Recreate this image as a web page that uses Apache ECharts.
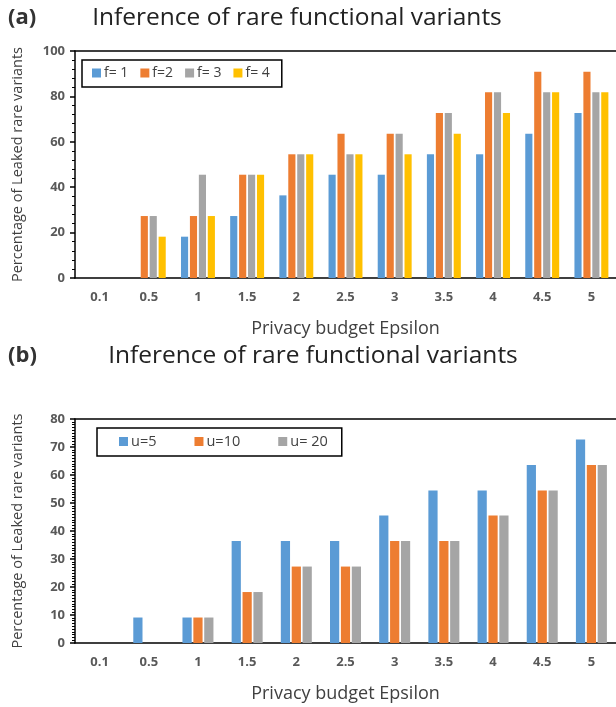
<!DOCTYPE html>
<html><head><meta charset="utf-8">
<script src="https://cdn.jsdelivr.net/npm/echarts@6/dist/echarts.min.js"></script>
<style>html,body{margin:0;padding:0;background:#fff}#c{width:616px;height:707px}</style>
</head><body><div id="c"></div>
<script>
const categories = ['0.1','0.5','1','1.5','2','2.5','3','3.5','4','4.5','5'];
const f1 = [0, 0, 18.2, 27.3, 36.4, 45.5, 45.5, 54.5, 54.5, 63.6, 72.7];
const f2 = [0, 27.3, 27.3, 45.5, 54.5, 63.6, 63.6, 72.7, 81.8, 90.9, 90.9];
const f3 = [0, 27.3, 45.5, 45.5, 54.5, 54.5, 63.6, 72.7, 81.8, 81.8, 81.8];
const f4 = [0, 18.2, 27.3, 45.5, 54.5, 54.5, 54.5, 63.6, 72.7, 81.8, 81.8];
const u5 = [0, 9.1, 9.1, 36.4, 36.4, 36.4, 45.5, 54.5, 54.5, 63.6, 72.7];
const u10 = [0, 0, 9.1, 18.2, 27.3, 27.3, 36.4, 36.4, 45.5, 54.5, 63.6];
const u20 = [0, 0, 9.1, 18.2, 27.3, 27.3, 36.4, 36.4, 45.5, 54.5, 63.6];
const yTicksA = {min: 0, max: 100, interval: 20};
const yTicksB = {min: 0, max: 80, interval: 10};

const FONT = 'Open Sans';
const C = {blue:'#5B9BD5', orange:'#ED7D31', gray:'#A5A5A5', yellow:'#FFC000'};
const chart = echarts.init(document.getElementById('c'));

function xAxis(grid){
  return [{
    type:'category', data:categories, gridIndex:grid,
    axisLine:{lineStyle:{color:'#000', width:1.5}},
    axisTick:{alignWithLabel:true, length:4, lineStyle:{color:'#000', width:1.5}},
    axisLabel:{color:'#595959', fontWeight:'bold', fontSize:13, fontFamily:FONT, margin:13},
    name:'Privacy budget Epsilon', nameLocation:'middle', nameGap:42,
    nameTextStyle:{color:'#404040', fontSize:18, fontFamily:FONT}
  },{
    type:'category', data:categories, gridIndex:grid, position:'top',
    axisLine:{lineStyle:{color:'#000', width:1.5}},
    axisTick:{show:false}, axisLabel:{show:false}
  }];
}
function yAxis(grid, t, split){
  return {
    type:'value', gridIndex:grid, min:t.min, max:t.max, interval:t.interval,
    axisLine:{show:true, lineStyle:{color:'#000', width:1.5}},
    axisTick:{show:true, inside:false, length:5, lineStyle:{color:'#000', width:1.5}},
    minorTick:{show:true, splitNumber:split, length:3, lineStyle:{color:'#000', width:1}},
    splitLine:{show:false},
    axisLabel:{color:'#595959', fontWeight:'bold', fontSize:13, fontFamily:FONT, margin:10},
    name:'Percentage of Leaked rare variants', nameLocation:'middle', nameGap:50,
    nameTextStyle:{color:'#404040', fontSize:14.5, fontFamily:FONT}
  };
}
function bar(name, data, color, xi, yi, gap, catGap){
  return {type:'bar', name, data, xAxisIndex:xi, yAxisIndex:yi,
    itemStyle:{color}, barGap:gap, barCategoryGap:catGap, animation:false};
}
const xa = xAxis(0), xb = xAxis(1);
chart.setOption({
  animation:false,
  title:[
    {text:'{p|(}{b|a}{p|)}', left:3, top:2, textStyle:{rich:{p:{fontSize:22,fontFamily:FONT,color:'#333'},b:{fontSize:22,fontWeight:'bold',fontFamily:FONT,color:'#333'}}}},
    {text:'Inference of rare functional variants', left:292, textAlign:'center', top:1, textStyle:{fontSize:24.5, fontWeight:'normal', fontFamily:FONT, color:'#222'}},
    {text:'{p|(}{b|b}{p|)}', left:3, top:340, textStyle:{rich:{p:{fontSize:22,fontFamily:FONT,color:'#333'},b:{fontSize:22,fontWeight:'bold',fontFamily:FONT,color:'#333'}}}},
    {text:'Inference of rare functional variants', left:308, textAlign:'center', top:339, textStyle:{fontSize:24.5, fontWeight:'normal', fontFamily:FONT, color:'#222'}}
  ],
  legend:[
    {data:['f= 1','f=2','f= 3','f= 4'], left:82, top:60, orient:'horizontal',
     borderColor:'#000', borderWidth:1.5, padding:[6,12,7,10], itemGap:12,
     itemWidth:9, itemHeight:9, icon:'rect',
     textStyle:{color:'#404040', fontSize:14, fontFamily:FONT, padding:[0,0,0,-2]}},
    {data:['u=5','u=10','u= 20'], left:97, top:428, orient:'horizontal',
     borderColor:'#000', borderWidth:1.5, padding:[6,14,7,22], itemGap:38,
     itemWidth:9, itemHeight:9, icon:'rect',
     textStyle:{color:'#404040', fontSize:14.5, fontFamily:FONT, padding:[0,0,0,-2]}}
  ],
  grid:[
    {left:75, right:-3, top:51, height:227},
    {left:75, right:-3, top:419, height:224}
  ],
  xAxis:[xa[0], xa[1], xb[0], xb[1]],
  yAxis:[yAxis(0, yTicksA, 5), yAxis(1, yTicksB, 10)],
  series:[
    bar('f= 1', f1, C.blue, 0, 0, '25%', '31%'),
    bar('f=2', f2, C.orange, 0, 0, '25%', '31%'),
    bar('f= 3', f3, C.gray, 0, 0, '25%', '31%'),
    bar('f= 4', f4, C.yellow, 0, 0, '25%', '31%'),
    bar('u=5', u5, C.blue, 2, 1, '18%', '37%'),
    bar('u=10', u10, C.orange, 2, 1, '18%', '37%'),
    bar('u= 20', u20, C.gray, 2, 1, '18%', '37%')
  ]
});
</script></body></html>
